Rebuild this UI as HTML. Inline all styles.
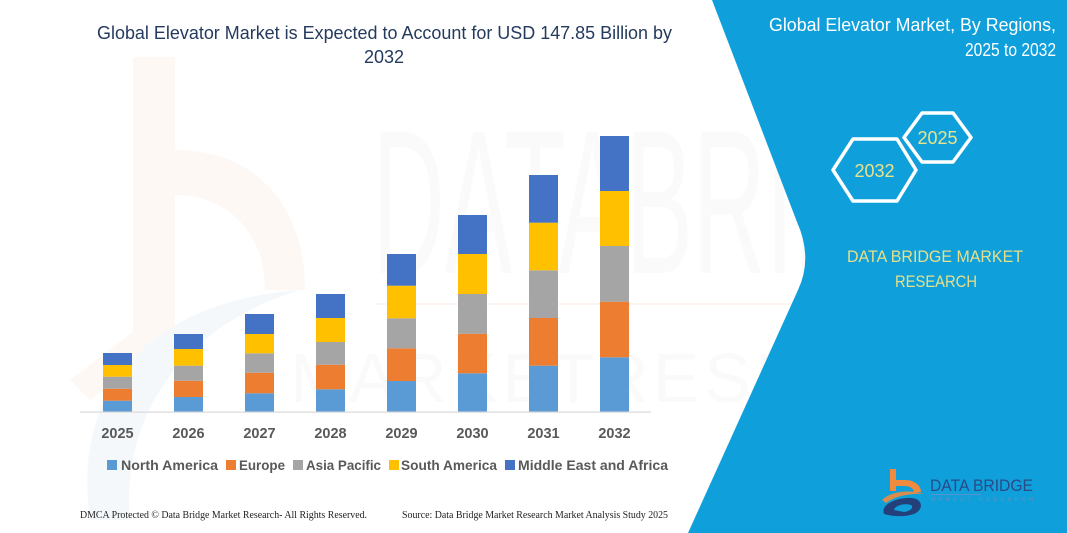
<!DOCTYPE html>
<html>
<head>
<meta charset="utf-8">
<style>
  html,body{margin:0;padding:0;background:#fff;}
  body{width:1067px;height:533px;overflow:hidden;}
  svg{display:block;}
  .s{font-family:"Liberation Sans",sans-serif;}
  .f{font-family:"Liberation Serif",serif;}
</style>
</head>
<body>
<svg width="1067" height="533" viewBox="0 0 1067 533" xmlns="http://www.w3.org/2000/svg">
  <rect x="0" y="0" width="1067" height="533" fill="#ffffff"/>

  <!-- faint watermark: orange b -->
  <g fill="#FEF8F4">
    <rect x="133" y="57" width="42" height="300"/>
    <path d="M175,150 C260,150 305,210 305,290 L265,290 C265,230 225,195 175,195 Z"/>
    <path d="M70,380 L175,300 L175,340 L90,400 Z"/>
  </g>
  <!-- faint watermark: blue swoosh -->
  <path d="M90,520 C70,380 160,300 300,290 C200,320 120,400 130,520 Z" fill="#F5F8FB"/>
  <!-- faint watermark: DATA BRIDGE letters -->
  <text class="s" x="372" y="273" font-size="205" fill="#FAFAFA" textLength="640" lengthAdjust="spacingAndGlyphs">DATABRIDGE</text>
  <rect x="375" y="303" width="440" height="2" fill="#FEF5F0"/>
  <text class="s" x="290" y="402" font-size="70" fill="#FAFAFA" textLength="720" lengthAdjust="spacing">M A R K E T  R E S E A R C H</text>

  <!-- Title -->
  <text class="s" x="97" y="39" font-size="18" fill="#243A5E" textLength="575" lengthAdjust="spacingAndGlyphs">Global Elevator Market is Expected to Account for USD 147.85 Billion by</text>
  <text class="s" x="384" y="63" font-size="18" fill="#243A5E" text-anchor="middle">2032</text>

  <!-- Bars -->
  <g>
    <rect x="103" y="400.7" width="29" height="11.3" fill="#5B9BD5"/>
    <rect x="103" y="388.7" width="29" height="12" fill="#ED7D31"/>
    <rect x="103" y="376.7" width="29" height="12" fill="#A5A5A5"/>
    <rect x="103" y="365" width="29" height="11.7" fill="#FFC000"/>
    <rect x="103" y="353" width="29" height="12" fill="#4472C4"/>

    <rect x="174" y="397" width="29" height="15" fill="#5B9BD5"/>
    <rect x="174" y="380.7" width="29" height="16.3" fill="#ED7D31"/>
    <rect x="174" y="365.7" width="29" height="15" fill="#A5A5A5"/>
    <rect x="174" y="349" width="29" height="16.7" fill="#FFC000"/>
    <rect x="174" y="334" width="29" height="15" fill="#4472C4"/>

    <rect x="245" y="393.3" width="29" height="18.7" fill="#5B9BD5"/>
    <rect x="245" y="372.7" width="29" height="20.6" fill="#ED7D31"/>
    <rect x="245" y="353.3" width="29" height="19.4" fill="#A5A5A5"/>
    <rect x="245" y="334" width="29" height="19.3" fill="#FFC000"/>
    <rect x="245" y="314" width="29" height="20" fill="#4472C4"/>

    <rect x="316" y="389.3" width="29" height="22.7" fill="#5B9BD5"/>
    <rect x="316" y="364.7" width="29" height="24.6" fill="#ED7D31"/>
    <rect x="316" y="342" width="29" height="22.7" fill="#A5A5A5"/>
    <rect x="316" y="318" width="29" height="24" fill="#FFC000"/>
    <rect x="316" y="294" width="29" height="24" fill="#4472C4"/>

    <rect x="387" y="381" width="29" height="31" fill="#5B9BD5"/>
    <rect x="387" y="348.3" width="29" height="32.7" fill="#ED7D31"/>
    <rect x="387" y="318.3" width="29" height="30" fill="#A5A5A5"/>
    <rect x="387" y="285.7" width="29" height="32.6" fill="#FFC000"/>
    <rect x="387" y="254" width="29" height="31.7" fill="#4472C4"/>

    <rect x="458" y="373.3" width="29" height="38.7" fill="#5B9BD5"/>
    <rect x="458" y="333.7" width="29" height="39.6" fill="#ED7D31"/>
    <rect x="458" y="294" width="29" height="39.7" fill="#A5A5A5"/>
    <rect x="458" y="254" width="29" height="40" fill="#FFC000"/>
    <rect x="458" y="215" width="29" height="39" fill="#4472C4"/>

    <rect x="529" y="365.7" width="29" height="46.3" fill="#5B9BD5"/>
    <rect x="529" y="318" width="29" height="47.7" fill="#ED7D31"/>
    <rect x="529" y="270.3" width="29" height="47.7" fill="#A5A5A5"/>
    <rect x="529" y="222.7" width="29" height="47.6" fill="#FFC000"/>
    <rect x="529" y="175" width="29" height="47.7" fill="#4472C4"/>

    <rect x="600" y="357.3" width="29" height="54.7" fill="#5B9BD5"/>
    <rect x="600" y="301.7" width="29" height="55.6" fill="#ED7D31"/>
    <rect x="600" y="246" width="29" height="55.7" fill="#A5A5A5"/>
    <rect x="600" y="191" width="29" height="55" fill="#FFC000"/>
    <rect x="600" y="136" width="29" height="55" fill="#4472C4"/>
  </g>
  <rect x="80" y="411.5" width="571" height="1.2" fill="#D9D9D9"/>

  <!-- year labels -->
  <g class="s" font-size="14.5" font-weight="bold" fill="#595959" text-anchor="middle">
    <text x="117.5" y="438">2025</text>
    <text x="188.5" y="438">2026</text>
    <text x="259.5" y="438">2027</text>
    <text x="330.5" y="438">2028</text>
    <text x="401.5" y="438">2029</text>
    <text x="472.5" y="438">2030</text>
    <text x="543.5" y="438">2031</text>
    <text x="614.5" y="438">2032</text>
  </g>

  <!-- legend -->
  <g class="s" font-size="14" font-weight="bold" fill="#595959">
    <rect x="107" y="460" width="10" height="10" fill="#5B9BD5"/>
    <text x="121" y="470" textLength="97" lengthAdjust="spacingAndGlyphs">North America</text>
    <rect x="226" y="460" width="10" height="10" fill="#ED7D31"/>
    <text x="239" y="470" textLength="46" lengthAdjust="spacingAndGlyphs">Europe</text>
    <rect x="293" y="460" width="10" height="10" fill="#A5A5A5"/>
    <text x="306" y="470" textLength="75" lengthAdjust="spacingAndGlyphs">Asia Pacific</text>
    <rect x="389" y="460" width="10" height="10" fill="#FFC000"/>
    <text x="401" y="470" textLength="96" lengthAdjust="spacingAndGlyphs">South America</text>
    <rect x="505" y="460" width="10" height="10" fill="#4472C4"/>
    <text x="518" y="470" textLength="150" lengthAdjust="spacingAndGlyphs">Middle East and Africa</text>
  </g>

  <!-- footer -->
  <g class="f" font-size="10" fill="#222222">
    <text x="80" y="518" textLength="287" lengthAdjust="spacingAndGlyphs">DMCA Protected © Data Bridge Market Research-  All Rights Reserved.</text>
    <text x="402" y="518" textLength="266" lengthAdjust="spacingAndGlyphs">Source:  Data Bridge Market Research  Market Analysis Study 2025</text>
  </g>

  <!-- blue panel -->
  <path d="M712,0 L1067,0 L1067,533 L688,533 L798,290 Q813,258 797,222 Z" fill="#0FA0DC"/>

  <!-- right title -->
  <g class="s" font-size="18" fill="#FFFFFF" text-anchor="end">
    <text x="1056" y="31" textLength="287" lengthAdjust="spacingAndGlyphs">Global Elevator Market, By Regions,</text>
    <text x="1056" y="56" textLength="91" lengthAdjust="spacingAndGlyphs">2025 to 2032</text>
  </g>

  <!-- hexagons -->
  <g fill="none" stroke="#FFFFFF" stroke-width="3.5" stroke-linejoin="round">
    <polygon points="904,137.5 922,113 953,113 971,137.5 953,162 922,162"/>
    <polygon points="833,170 853,139 897,139 916,170 897,201 853,201"/>
  </g>
  <g class="s" font-size="18" fill="#E9E38C" text-anchor="middle">
    <text x="937.5" y="144">2025</text>
    <text x="874.5" y="177">2032</text>
  </g>

  <!-- DATA BRIDGE MARKET RESEARCH -->
  <g class="s" font-size="17" fill="#E8DF8A" text-anchor="middle">
    <text x="935" y="262" textLength="176" lengthAdjust="spacingAndGlyphs">DATA BRIDGE MARKET</text>
    <text x="936" y="287" textLength="82" lengthAdjust="spacingAndGlyphs">RESEARCH</text>
  </g>

  <!-- logo -->
  <g>
    <rect x="890" y="469" width="6" height="22" fill="#F08A3C"/>
    <path d="M890,480 L905,480 C915,480 921,486 921,492 L914,492 C914,489 910,486 905,486 L890,486 Z" fill="#F08A3C"/>
    <path d="M882,500 C892,490 912,490 924,494 C910,493 895,496 886,503 Z" fill="#F08A3C" opacity="0.9"/>
    <path d="M884,514 C880,504 898,497 912,498 C922,499 924,508 916,513 C908,517 894,517 884,514 Z" fill="#24407A"/>
    <path d="M894,510 C895,505 905,503 911,505 C914,507 911,511 904,512 Z" fill="#0FA0DC"/>
    <text class="s" x="930" y="491" font-size="17" fill="#2A4A86" textLength="103" lengthAdjust="spacingAndGlyphs">DATA BRIDGE</text>
    <rect x="931" y="494" width="50" height="1" fill="#5D8FC8"/>
    <text class="s" x="931" y="501" font-size="5" fill="#6E8BB5" textLength="102" lengthAdjust="spacing">MARKET RESEARCH</text>
  </g>
</svg>
</body>
</html>
